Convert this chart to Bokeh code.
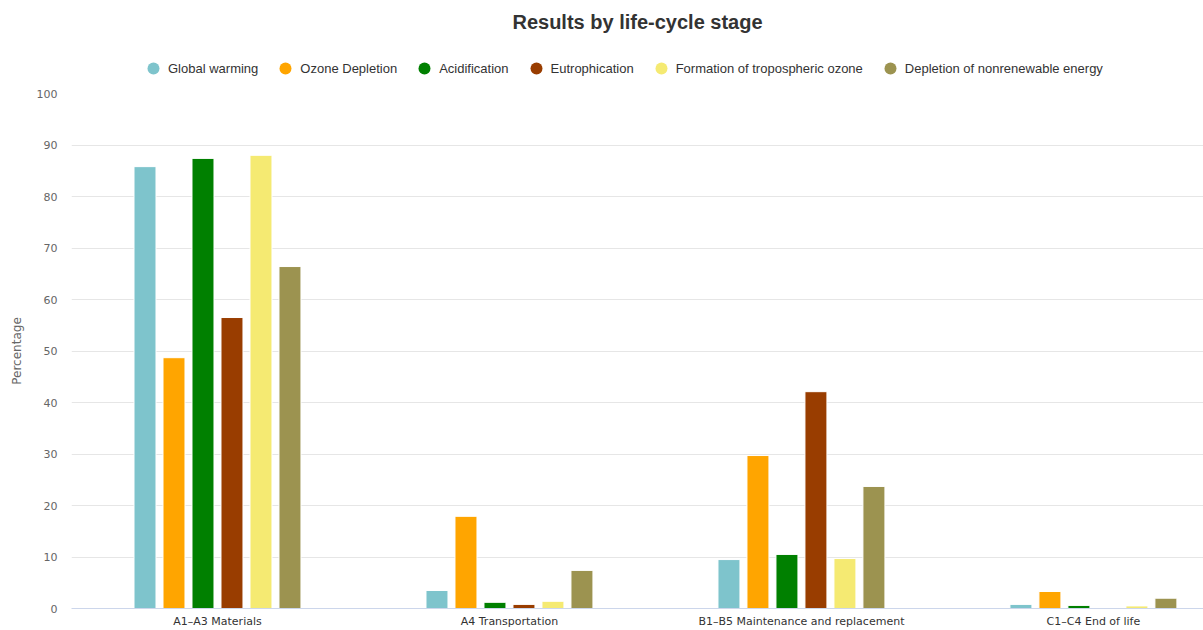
from bokeh.plotting import figure
from bokeh.layouts import column
from bokeh.models import (ColumnDataSource, Range1d, FixedTicker, Legend, LegendItem,
                          Spacer)
from bokeh.embed import file_html
from bokeh.resources import INLINE

# Life-cycle stages and impact categories
stages = ["A1–A3 Materials", "A4 Transportation",
          "B1–B5 Maintenance and replacement", "C1–C4 End of life"]
impacts = ["Global warming", "Ozone Depletion", "Acidification", "Eutrophication",
           "Formation of tropospheric ozone", "Depletion of nonrenewable energy"]
colors = ["#7EC4CC", "#FFA500", "#008000", "#993D00", "#F5EA72", "#9C9350"]

# Percentage share of each impact per stage
global_warming = [85.8, 3.5, 9.5, 0.8]
ozone_depletion = [48.7, 17.9, 29.7, 3.3]
acidification = [87.4, 1.2, 10.5, 0.6]
eutrophication = [56.5, 0.8, 42.1, 0.1]
tropospheric_ozone = [88.0, 1.4, 9.7, 0.5]
nonrenewable_energy = [66.4, 7.4, 23.7, 2.0]
series = [global_warming, ozone_depletion, acidification, eutrophication,
          tropospheric_ozone, nonrenewable_energy]

y_ticks = [0, 10, 20, 30, 40, 50, 60, 70, 80, 90, 100]

# ---- header: title and legend ----
head = figure(width=1203, height=77, output_backend="svg", toolbar_location=None,
              x_range=Range1d(0, 1), y_range=Range1d(0, 1),
              min_border=0)
head.axis.visible = False
head.grid.visible = False
head.outline_line_color = None
head.title.text = "Results by life-cycle stage"
head.title.align = "center"
head.title.text_font = "Liberation Sans"
head.title.text_font_size = "20px"
head.title.text_font_style = "bold"
head.title.text_color = "#333333"
head.title.offset = 0
head.title.standoff = 0

items = []
for name, col in zip(impacts, colors):
    g = head.scatter(x=[-10], y=[-10], marker="circle", size=12, fill_color=col,
                     line_color=None)
    items.append(LegendItem(label=name, renderers=[g]))
legend = Legend(items=items, orientation="horizontal", location=(67, 2),
                label_text_font="Liberation Sans", label_text_font_size="13px",
                label_text_color="#333333", border_line_color=None,
                background_fill_alpha=0, glyph_width=30, glyph_height=30,
                spacing=12, label_standoff=0, padding=0, margin=0)
head.add_layout(legend, "center")

# ---- main column chart ----
p = figure(width=1203, height=545, output_backend="svg", toolbar_location=None,
           x_range=Range1d(-0.5, 3.377), y_range=Range1d(0, 100),
           min_border_left=71, min_border_right=0, min_border_top=8,
           min_border_bottom=0)
p.outline_line_color = None

pitch = 0.0993
bar_w = 0.0753
for j, (vals, col) in enumerate(zip(series, colors)):
    xs = [i + (j - 2.5) * pitch for i in range(len(stages))]
    src = ColumnDataSource(dict(x=xs, top=vals))
    p.vbar(x="x", top="top", width=bar_w, source=src, fill_color=col,
           line_color="white", line_width=1)

p.yaxis.ticker = FixedTicker(ticks=y_ticks)
p.yaxis.axis_line_color = None
p.yaxis.major_tick_line_color = None
p.yaxis.minor_tick_line_color = None
p.yaxis.major_tick_out = 0
p.yaxis.major_label_text_font = "DejaVu Sans"
p.yaxis.major_label_text_font_size = "11px"
p.yaxis.major_label_text_color = "#666666"
p.yaxis.major_label_standoff = 14
p.yaxis.axis_label = "Percentage"
p.yaxis.axis_label_text_font = "DejaVu Sans"
p.yaxis.axis_label_text_font_size = "12px"
p.yaxis.axis_label_text_font_style = "normal"
p.yaxis.axis_label_text_color = "#666666"
p.yaxis.axis_label_standoff = 10

p.xaxis.ticker = FixedTicker(ticks=[0, 1, 2, 3])
p.xaxis.major_label_overrides = {i: s for i, s in enumerate(stages)}
p.xaxis.axis_line_color = "#CCD6EB"
p.xaxis.major_tick_line_color = None
p.xaxis.minor_tick_line_color = None
p.xaxis.major_tick_out = 0
p.xaxis.major_label_text_font = "DejaVu Sans"
p.xaxis.major_label_text_font_size = "11px"
p.xaxis.major_label_text_color = "#333333"
p.xaxis.major_label_standoff = 6

p.xgrid.grid_line_color = None
p.ygrid.grid_line_color = "#E6E6E6"
p.ygrid.ticker = FixedTicker(ticks=y_ticks)

open("out.html", "w").write(
    file_html(column(Spacer(width=1203, height=8), head, p, spacing=0), INLINE))
